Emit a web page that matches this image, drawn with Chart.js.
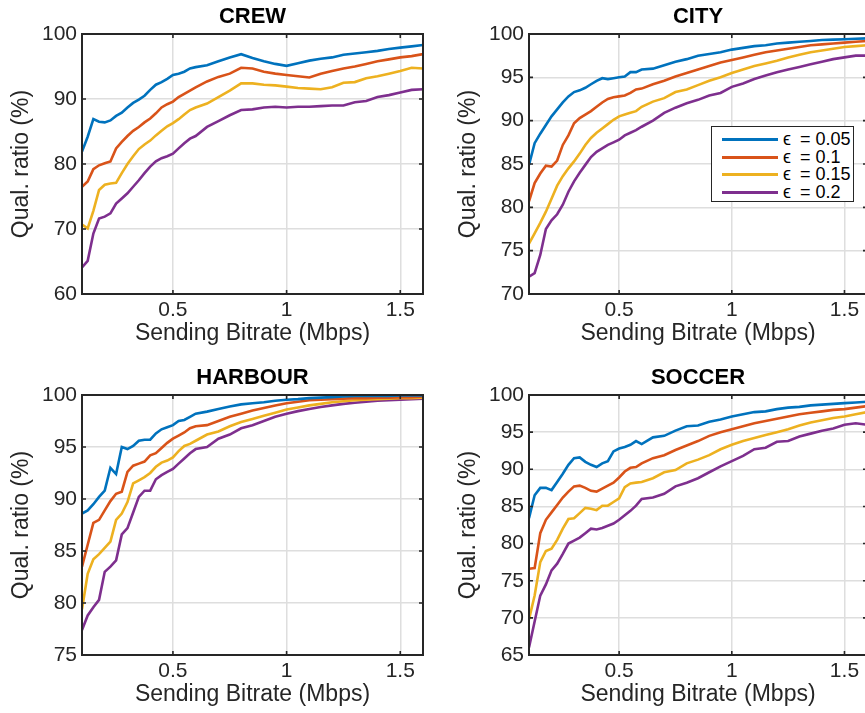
<!DOCTYPE html>
<html>
<head>
<meta charset="utf-8">
<script src="https://cdn.jsdelivr.net/npm/chart.js@4.4.1/dist/chart.umd.min.js"></script>
<style>
  body { margin: 0; background: #fff; width: 865px; height: 713px; overflow: hidden; position: relative; }
  canvas { position: absolute; display: block; }
  #legend { position: absolute; left: 711px; top: 126px; width: 141px; height: 74px;
            border: 1px solid #262626; background: #fff; }
  .lg-row { position: absolute; left: 0; width: 100%; height: 18px; }
  .lg-line { position: absolute; left: 10px; top: 8px; width: 56px; height: 3px; }
  .lg-text { position: absolute; left: 71px; top: 0; font: 18px/18px "Liberation Sans", Arial, sans-serif;
             color: #000; white-space: nowrap; }
</style>
</head>
<body>
<canvas id="c-crew" width="430" height="347" style="left:0;top:0"></canvas>
<canvas id="c-city" width="430" height="347" style="left:447px;top:0"></canvas>
<canvas id="c-harbour" width="430" height="347" style="left:0;top:361px"></canvas>
<canvas id="c-soccer" width="430" height="347" style="left:447px;top:361px"></canvas>
<div id="legend"></div>

<script>
// sending bitrate (Mbps), shared by every panel
const bitrate = [0.1, 0.125, 0.15, 0.175, 0.2, 0.225, 0.25, 0.275, 0.3, 0.325, 0.35, 0.375, 0.4, 0.425, 0.45,
    0.475, 0.5, 0.525, 0.55, 0.575, 0.6, 0.65, 0.7, 0.75, 0.8, 0.85, 0.9, 0.95, 1.0, 1.05, 1.1, 1.15, 1.2,
    1.25, 1.3, 1.35, 1.4, 1.45, 1.5, 1.55, 1.6];

const epsLabels = ['ϵ = 0.05', 'ϵ = 0.1', 'ϵ = 0.15', 'ϵ = 0.2'];
const lineColors = ['#0072BD', '#D95319', '#EDB120', '#7E2F8E'];

const xTicks = [0.5, 1, 1.5];
const crewYTicks = [60, 70, 80, 90, 100];
const cityYTicks = [70, 75, 80, 85, 90, 95, 100];
const harbourYTicks = [75, 80, 85, 90, 95, 100];
const soccerYTicks = [65, 70, 75, 80, 85, 90, 95, 100];

// CREW
const crewE005 = [81.9, 84.2, 86.9, 86.5, 86.4, 86.7, 87.4, 87.9, 88.7, 89.4, 89.9, 90.5, 91.4, 92.2, 92.6, 93.1, 93.7, 93.9, 94.2, 94.7, 94.9,
    95.2, 95.8, 96.4, 96.9, 96.3, 95.8, 95.4, 95.1, 95.5, 95.9, 96.2, 96.4, 96.8, 97.0, 97.2, 97.4, 97.7, 97.9, 98.1, 98.3];
const crewE01 = [76.5, 77.3, 79.2, 79.8, 80.1, 80.4, 82.4, 83.4, 84.3, 85.1, 85.7, 86.4, 87.0, 87.8, 88.7, 89.2, 89.6, 90.3, 90.8, 91.3, 91.8,
    92.7, 93.4, 93.9, 94.8, 94.7, 94.2, 93.9, 93.7, 93.5, 93.3, 93.9, 94.3, 94.7, 95.0, 95.4, 95.8, 96.1, 96.4, 96.6, 96.9];
const crewE015 = [70.7, 70.1, 72.8, 76.0, 76.8, 77.0, 77.1, 78.6, 80.0, 81.2, 82.3, 83.0, 83.6, 84.4, 85.1, 85.8, 86.3, 86.9, 87.6, 88.3, 88.7,
    89.3, 90.3, 91.3, 92.4, 92.4, 92.2, 92.1, 91.9, 91.7, 91.6, 91.5, 91.8, 92.5, 92.6, 93.2, 93.5, 93.9, 94.3, 94.8, 94.7];
const crewE02 = [64.1, 65.1, 69.3, 71.6, 71.9, 72.4, 73.9, 74.7, 75.5, 76.5, 77.5, 78.6, 79.6, 80.4, 80.9, 81.2, 81.6, 82.4, 83.2, 83.9, 84.3,
    85.7, 86.6, 87.5, 88.3, 88.4, 88.7, 88.8, 88.7, 88.8, 88.8, 88.9, 89.0, 89.0, 89.5, 89.7, 90.3, 90.6, 91.0, 91.4, 91.5];

// CITY
const cityE005 = [84.9, 87.4, 88.5, 89.5, 90.5, 91.3, 92.1, 92.8, 93.3, 93.5, 93.8, 94.2, 94.6, 94.9, 94.8, 94.9, 95.0, 95.1, 95.6, 95.6, 95.9,
    96.0, 96.4, 96.8, 97.1, 97.5, 97.7, 97.9, 98.2, 98.4, 98.6, 98.7, 98.9, 99.0, 99.1, 99.2, 99.3, 99.35, 99.4, 99.45, 99.5];
const cityE01 = [80.7, 82.8, 83.9, 84.8, 84.7, 85.4, 87.2, 88.3, 89.7, 90.3, 90.7, 91.1, 91.6, 92.1, 92.5, 92.7, 92.8, 92.9, 93.2, 93.6, 93.7,
    94.2, 94.6, 95.1, 95.5, 95.9, 96.3, 96.7, 97.0, 97.3, 97.6, 97.9, 98.1, 98.3, 98.5, 98.7, 98.8, 98.9, 99.0, 99.1, 99.2];
const cityE015 = [75.8, 77.0, 78.2, 79.5, 81.0, 82.5, 83.6, 84.5, 85.3, 86.2, 87.2, 88.0, 88.6, 89.1, 89.6, 90.1, 90.5, 90.7, 90.9, 91.1, 91.6,
    92.2, 92.6, 93.3, 93.6, 94.1, 94.6, 95.0, 95.5, 95.9, 96.3, 96.6, 96.9, 97.3, 97.6, 97.9, 98.1, 98.3, 98.5, 98.6, 98.7];
const cityE02 = [72.0, 72.4, 74.5, 77.5, 78.5, 79.2, 80.3, 81.8, 83.0, 84.0, 84.9, 85.8, 86.4, 86.8, 87.2, 87.5, 87.8, 88.3, 88.6, 88.9, 89.3,
    90.0, 90.9, 91.5, 92.0, 92.4, 92.9, 93.2, 93.9, 94.3, 94.8, 95.2, 95.6, 95.9, 96.2, 96.5, 96.8, 97.1, 97.3, 97.5, 97.5];

// HARBOUR
const harbourE005 = [88.6, 88.9, 89.5, 90.2, 90.8, 93.0, 92.4, 95.0, 94.8, 95.1, 95.6, 95.7, 95.7, 96.3, 96.7, 96.9, 97.1, 97.5, 97.6, 97.9, 98.2,
    98.4, 98.65, 98.9, 99.1, 99.2, 99.3, 99.45, 99.55, 99.6, 99.7, 99.75, 99.8, 99.85, 99.9, 99.9, 99.9, 99.92, 99.95, 99.95, 99.95];
const harbourE01 = [83.5, 85.6, 87.7, 88.0, 88.9, 89.8, 90.5, 90.7, 92.6, 93.2, 93.4, 93.6, 94.2, 94.4, 94.9, 95.4, 95.8, 96.1, 96.4, 96.8, 97.0,
    97.1, 97.5, 97.9, 98.2, 98.5, 98.75, 99.0, 99.2, 99.35, 99.5, 99.55, 99.6, 99.65, 99.7, 99.7, 99.75, 99.75, 99.8, 99.8, 99.85];
const harbourE015 = [79.4, 82.8, 84.2, 84.7, 85.3, 85.9, 88.0, 88.6, 89.7, 91.5, 91.8, 92.1, 92.5, 93.1, 93.5, 93.7, 94.0, 94.6, 95.1, 95.3, 95.6,
    96.2, 96.5, 97.0, 97.4, 97.7, 98.0, 98.3, 98.6, 98.8, 99.0, 99.15, 99.3, 99.4, 99.5, 99.55, 99.6, 99.65, 99.7, 99.7, 99.75];
const harbourE02 = [77.4, 78.8, 79.6, 80.3, 83.0, 83.5, 84.1, 86.6, 87.2, 88.7, 90.2, 90.8, 90.8, 91.9, 92.3, 92.6, 92.9, 93.4, 93.9, 94.4, 94.8,
    95.0, 95.8, 96.2, 96.8, 97.1, 97.5, 97.9, 98.2, 98.45, 98.65, 98.85, 99.0, 99.15, 99.25, 99.35, 99.45, 99.5, 99.55, 99.6, 99.65];

// SOCCER
const soccerE005 = [83.4, 86.5, 87.5, 87.5, 87.2, 88.3, 89.4, 90.6, 91.5, 91.6, 91.0, 90.6, 90.3, 90.8, 91.1, 92.4, 92.8, 93.0, 93.3, 93.8, 93.4,
    94.3, 94.5, 95.2, 95.8, 95.9, 96.4, 96.7, 97.1, 97.4, 97.7, 97.8, 98.1, 98.3, 98.4, 98.6, 98.7, 98.8, 98.9, 99.0, 99.1];
const soccerE01 = [76.6, 76.7, 81.4, 83.2, 84.2, 85.2, 86.2, 87.0, 87.7, 87.8, 87.5, 87.1, 87.0, 87.4, 87.8, 88.2, 88.9, 89.7, 90.2, 90.3, 90.8,
    91.5, 91.9, 92.6, 93.2, 93.8, 94.5, 95.0, 95.4, 95.8, 96.2, 96.5, 96.8, 97.1, 97.4, 97.6, 97.8, 98.0, 98.1, 98.3, 98.5];
const soccerE015 = [69.8, 73.0, 77.5, 79.0, 79.3, 80.5, 82.0, 83.3, 83.4, 84.1, 84.8, 84.7, 84.5, 85.1, 85.1, 85.6, 86.1, 87.6, 88.1, 88.2, 88.3,
    88.8, 89.6, 89.9, 90.8, 91.3, 91.9, 92.7, 93.3, 93.8, 94.2, 94.6, 95.0, 95.4, 95.9, 96.3, 96.6, 96.9, 97.1, 97.4, 97.7];
const soccerE02 = [66.0, 69.5, 73.0, 74.5, 76.4, 77.3, 78.6, 80.0, 80.4, 80.8, 81.4, 82.0, 81.9, 82.1, 82.4, 82.7, 83.2, 83.8, 84.4, 85.1, 86.0,
    86.2, 86.7, 87.7, 88.2, 88.8, 89.6, 90.4, 91.1, 91.8, 92.7, 92.9, 93.7, 93.8, 94.4, 94.8, 95.2, 95.5, 96.0, 96.2, 96.0];

const FONT = '"Liberation Sans", Arial, Helvetica, sans-serif';
const textColor = '#262626';
const gridColor = '#dedede';

// bold title centred above the plot area
const panelTitle = {
    id: 'panelTitle',
    afterDraw(chart, args, opts) {
        const { ctx, chartArea: a } = chart;
        ctx.save();
        ctx.fillStyle = '#000';
        ctx.font = `bold 22px ${FONT}`;
        ctx.textAlign = 'center';
        ctx.textBaseline = 'middle';
        ctx.fillText(opts.text, (a.left + a.right) / 2, a.top - 17);
        ctx.restore();
    }
};

// matlab style box with inward ticks on all four sides
const axesBox = {
    id: 'axesBox',
    afterDatasetsDraw(chart) {
        const { ctx, chartArea: a, scales: { x, y } } = chart;
        const tl = 4;
        ctx.save();
        ctx.strokeStyle = textColor;
        ctx.lineWidth = 1.6;
        ctx.beginPath();
        x.ticks.forEach(t => {
            const px = x.getPixelForValue(t.value);
            ctx.moveTo(px, a.bottom); ctx.lineTo(px, a.bottom - tl);
            ctx.moveTo(px, a.top); ctx.lineTo(px, a.top + tl);
        });
        y.ticks.forEach(t => {
            const py = y.getPixelForValue(t.value);
            ctx.moveTo(a.left, py); ctx.lineTo(a.left + tl, py);
            ctx.moveTo(a.right, py); ctx.lineTo(a.right - tl, py);
        });
        ctx.stroke();
        ctx.lineWidth = 2;
        ctx.strokeRect(a.left, a.top, a.right - a.left, a.bottom - a.top);
        ctx.restore();
    }
};

function makePanel(canvasId, title, series, yTicks, rightPad) {
    return new Chart(document.getElementById(canvasId), {
        type: 'line',
        data: {
            datasets: series.map((vals, i) => ({
                label: epsLabels[i],
                data: vals.map((v, j) => ({ x: bitrate[j], y: v })),
                borderColor: lineColors[i],
                backgroundColor: lineColors[i],
                borderWidth: 2.6,
                pointRadius: 0,
                tension: 0,
                fill: false
            }))
        },
        options: {
            responsive: false,
            animation: false,
            devicePixelRatio: 1,
            layout: { padding: { left: 0, right: rightPad, top: 34, bottom: 0 } },
            plugins: {
                legend: { display: false },
                tooltip: { enabled: false },
                panelTitle: { text: title }
            },
            scales: {
                x: {
                    type: 'linear', min: 0.1, max: 1.6,
                    afterBuildTicks: s => { s.ticks = xTicks.map(v => ({ value: v })); },
                    afterFit: s => { s.height = 53; },
                    ticks: { color: textColor, font: { family: FONT, size: 21 }, padding: 4, maxRotation: 0,
                             callback: v => String(v) },
                    grid: { color: gridColor, lineWidth: 1.5, drawTicks: false },
                    border: { display: false },
                    title: { display: true, text: 'Sending Bitrate (Mbps)', color: textColor,
                             font: { family: FONT, size: 23 }, padding: { top: 0, bottom: 0 } }
                },
                y: {
                    min: yTicks[0], max: yTicks[yTicks.length - 1],
                    afterBuildTicks: s => { s.ticks = yTicks.map(v => ({ value: v })); },
                    afterFit: s => { s.width = 82; },
                    ticks: { color: textColor, font: { family: FONT, size: 21 }, padding: 5 },
                    grid: { color: gridColor, lineWidth: 1.5, drawTicks: false },
                    border: { display: false },
                    title: { display: true, text: 'Qual. ratio (%)', color: textColor,
                             font: { family: FONT, size: 23 }, padding: { top: 8, bottom: 0 } }
                }
            }
        },
        plugins: [panelTitle, axesBox]
    });
}

function buildLegend(chart) {
    const box = document.getElementById('legend');
    chart.data.datasets.forEach((ds, i) => {
        const row = document.createElement('div');
        row.className = 'lg-row';
        row.style.top = (3 + Math.round(i * 17.5)) + 'px';
        const text = ds.label.replace('ϵ ', '<span style="margin-right:4px">ϵ</span> ');
        row.innerHTML = `<span class="lg-line" style="background:${ds.borderColor}"></span>` +
                        `<span class="lg-text">${text}</span>`;
        box.appendChild(row);
    });
}

makePanel('c-crew', 'CREW', [crewE005, crewE01, crewE015, crewE02], crewYTicks, 7);
const cityChart = makePanel('c-city', 'CITY', [cityE005, cityE01, cityE015, cityE02], cityYTicks, 10);
makePanel('c-harbour', 'HARBOUR', [harbourE005, harbourE01, harbourE015, harbourE02], harbourYTicks, 7);
makePanel('c-soccer', 'SOCCER', [soccerE005, soccerE01, soccerE015, soccerE02], soccerYTicks, 10);
buildLegend(cityChart);
</script>
</body>
</html>
